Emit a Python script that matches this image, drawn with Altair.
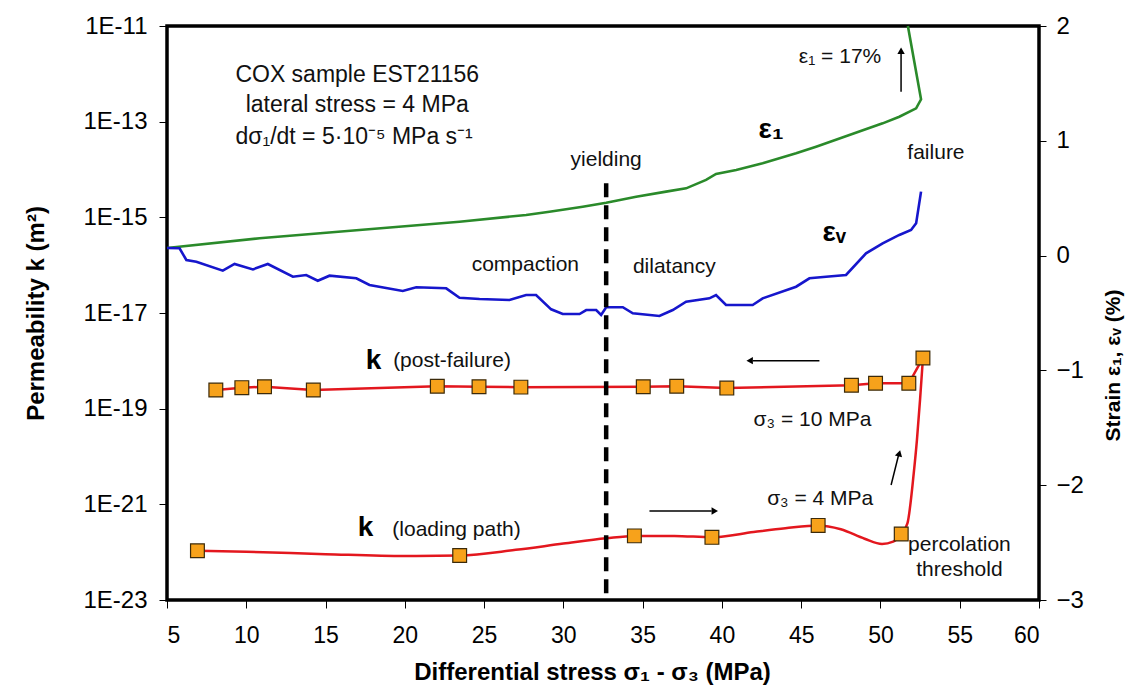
import altair as alt
import pandas as pd

FONT = "Liberation Sans"

# ---------------- permeability (left axis, m^2) ----------------
load_curve_x = [6.92, 10.0, 15.0, 20.0, 23.46, 27.0, 30.0, 32.7, 34.48, 37.0, 39.37, 42.0, 44.0,
                46.07, 47.5, 49.0, 50.1, 50.8, 51.31, 51.7, 52.1, 52.3, 52.5, 52.68]
load_curve_k = [1.07e-22, 1.02e-22, 9.1e-23, 8.3e-23, 8.5e-23, 1.12e-22, 1.51e-22, 1.95e-22, 2.19e-22,
                2.19e-22, 2.04e-22, 2.63e-22, 3.16e-22, 3.63e-22, 3.02e-22, 1.91e-22, 1.48e-22, 1.66e-22,
                2.40e-22, 3.98e-22, 4.47e-21, 2.19e-20, 1.58e-19, 1.15e-18]
load_marker_x = [6.92, 23.46, 34.48, 39.37, 46.07, 51.31]
load_marker_k = [1.07e-22, 8.5e-23, 2.19e-22, 2.04e-22, 3.63e-22, 2.40e-22]
post_x = [8.08, 9.72, 11.15, 14.23, 22.05, 24.68, 27.32, 35.04, 37.15, 40.31, 48.17, 49.69, 51.79, 52.68]
post_k = [2.45e-19, 2.75e-19, 2.88e-19, 2.45e-19, 2.95e-19, 2.88e-19, 2.82e-19, 2.88e-19, 2.95e-19,
          2.69e-19, 3.09e-19, 3.39e-19, 3.39e-19, 1.15e-18]

# ---------------- strain (right axis, %) ----------------
eps1_x = [5.0, 10.84, 17.14, 23.45, 27.65, 29.12, 31.22, 32.70, 34.59, 36.48, 37.74, 39.0, 39.63, 40.9,
          42.57, 44.68, 45.94, 48.04, 50.14, 51.19, 52.25, 52.56, 51.73]
eps1_s = [0.066, 0.151, 0.223, 0.295, 0.354, 0.382, 0.426, 0.461, 0.513, 0.557, 0.586, 0.659, 0.711, 0.746,
          0.804, 0.891, 0.949, 1.051, 1.152, 1.21, 1.283, 1.361, 2.0]
epsv_x = [5.0, 5.79, 6.22, 6.85, 8.52, 9.26, 10.42, 11.36, 12.94, 13.78, 14.51, 15.25, 16.94, 17.77, 19.87,
          20.72, 22.61, 23.45, 24.71, 26.6, 27.65, 28.28, 29.23, 29.96, 31.02, 31.44, 32.07, 32.38, 32.70,
          33.75, 34.38, 36.06, 36.9, 37.74, 39.21, 39.63, 40.26, 41.94, 42.57, 44.68, 45.52, 46.57, 47.83,
          49.09, 50.14, 51.19, 51.93, 52.25, 52.56]
epsv_s = [0.066, 0.064, -0.038, -0.053, -0.131, -0.073, -0.12, -0.073, -0.184, -0.169, -0.219, -0.175,
          -0.198, -0.256, -0.308, -0.276, -0.285, -0.367, -0.378, -0.387, -0.343, -0.343, -0.468, -0.509,
          -0.509, -0.474, -0.474, -0.517, -0.45, -0.45, -0.503, -0.526, -0.474, -0.402, -0.372, -0.343,
          -0.43, -0.43, -0.372, -0.271, -0.198, -0.184, -0.169, 0.02, 0.107, 0.18, 0.223, 0.281, 0.557]

yield_x = [32.7]
yield_top = [0.63]
yield_bottom = [-3.0]

# ---------------- annotations ----------------
note_text = ["yielding", "failure", "compaction", "dilatancy", "(post-failure)", "σ₃ = 10 MPa",
             "σ₃ = 4 MPa", "(loading path)", "percolation", "threshold"]
note_x = [32.70, 53.5, 27.6, 37.0, 22.98, 45.71, 46.2, 23.26, 54.98, 54.98]
note_s = [0.833, 0.891, -0.082, -0.097, -0.922, -1.432, -2.123, -2.39, -2.52, -2.739]

info_text = ["COX sample EST21156", "lateral stress = 4 MPa", "dσ₁/dt = 5·10⁻⁵ MPa s⁻¹"]
info_x = [17.0, 17.0, 16.8]
info_s = [1.573, 1.312, 1.03]

small_text = ["ε₁ = 17%"]
small_x = [47.45]
small_s = [1.733]

sym_text = ["ε₁", "εᵥ", "k", "k"]
sym_x = [43.1, 47.09, 18.03, 17.52]
sym_s = [1.094, 0.194, -0.918, -2.376]

arrow_x1 = [51.30, 46.15, 35.43, 50.67]
arrow_x2 = [51.30, 41.95, 39.35, 51.13]
arrow_s1 = [1.428, -0.915, -2.225, -1.998]
arrow_s2 = [1.76, -0.915, -2.225, -1.745]
head_x = [51.30, 41.75, 39.55, 51.19]
head_s = [1.785, -0.915, -2.225, -1.722]
head_shape = ["triangle-up", "triangle-left", "triangle-right", "triangle-up"]
head_angle = [0, 0, 0, 15]

x_ticks = [5, 10, 15, 20, 25, 30, 35, 40, 45, 50, 55, 60]
k_ticks = [1e-11, 1e-13, 1e-15, 1e-17, 1e-19, 1e-21, 1e-23]
s_ticks = [2, 1, 0, -1, -2, -3]

# ---------------- data frames ----------------
df_load = pd.DataFrame({"x": load_curve_x, "k": load_curve_k})
df_load_m = pd.DataFrame({"x": load_marker_x, "k": load_marker_k})
df_post = pd.DataFrame({"x": post_x, "k": post_k})
df_e1 = pd.DataFrame({"x": eps1_x, "s": eps1_s, "i": list(range(len(eps1_x)))})
df_ev = pd.DataFrame({"x": epsv_x, "s": epsv_s, "i": list(range(len(epsv_x)))})
df_yield = pd.DataFrame({"x": yield_x, "s": yield_top, "s2": yield_bottom})
df_note = pd.DataFrame({"x": note_x, "s": note_s, "t": note_text})
df_info = pd.DataFrame({"x": info_x, "s": info_s, "t": info_text})
df_small = pd.DataFrame({"x": small_x, "s": small_s, "t": small_text})
df_sym = pd.DataFrame({"x": sym_x, "s": sym_s, "t": sym_text})
df_arrow = pd.DataFrame({"x": arrow_x1, "x2": arrow_x2, "s": arrow_s1, "s2": arrow_s2})
df_head = pd.DataFrame({"x": head_x, "s": head_s, "shape": head_shape, "angle": head_angle})

# ---------------- scales / axes ----------------
x_enc = alt.X(
    "x:Q",
    scale=alt.Scale(domain=[5, 60], nice=False, zero=False),
    axis=alt.Axis(
        values=x_ticks, title="Differential stress  σ₁ - σ₃  (MPa)", grid=False, domain=False,
        tickColor="black", tickSize=8, tickWidth=1, labelFontSize=23, labelColor="black",
        labelFont=FONT, labelPadding=16, titleFont=FONT, titleFontSize=24, titleFontWeight="bold",
        titleColor="black", titleX=425, titleY=72, titleBaseline="middle", titleAlign="center",
    ),
)

k_scale = alt.Scale(type="log", domain=[1e-23, 1e-11], nice=False)
k_axis = alt.Axis(
    orient="left", values=k_ticks, labelExpr="'1E' + round(log(datum.value)/LN10)", grid=False,
    domain=False, tickColor="black", tickSize=8, tickWidth=1, labelFontSize=24, labelColor="black",
    labelFont=FONT, labelPadding=12, title="Permeability  k  (m²)", titleFont=FONT, titleFontSize=24,
    titleFontWeight="bold", titleColor="black", titleAngle=270, titleX=-131, titleY=287,
    titleAlign="center", titleBaseline="middle",
)
k_enc = alt.Y("k:Q", scale=k_scale, axis=k_axis)

s_scale = alt.Scale(domain=[-3, 2], nice=False, zero=False)
s_axis = alt.Axis(
    orient="right", values=s_ticks, grid=False, domain=False, tickColor="black", tickSize=7, tickWidth=1,
    labelFontSize=24, labelColor="black", labelFont=FONT, labelPadding=10,
    title="Strain  ε₁, εᵥ  (%)", titleFont=FONT, titleFontSize=21, titleFontWeight="bold",
    titleColor="black", titleAngle=270, titleX=74, titleY=339, titleAlign="center", titleBaseline="middle",
)
s_enc = alt.Y("s:Q", scale=s_scale, axis=s_axis)

RED = "#E3171E"

# ---------------- left group: permeability ----------------
load_line = alt.Chart(df_load).mark_line(color=RED, strokeWidth=2.5, interpolate="monotone").encode(
    x=x_enc, y=k_enc)
post_line = alt.Chart(df_post).mark_line(color=RED, strokeWidth=2.5).encode(x=x_enc, y=k_enc)
load_pts = alt.Chart(df_load_m).mark_point(
    shape="square", filled=True, fill="#F7A21B", stroke="#3b2a0a", strokeWidth=1.2, size=190, opacity=1
).encode(x=x_enc, y=k_enc)
post_pts = alt.Chart(df_post).mark_point(
    shape="square", filled=True, fill="#F7A21B", stroke="#3b2a0a", strokeWidth=1.2, size=190, opacity=1
).encode(x=x_enc, y=k_enc)
left = alt.layer(load_line, post_line, load_pts, post_pts)

# ---------------- right group: strain + annotations ----------------
e1_line = alt.Chart(df_e1).mark_line(color="#2A8A2A", strokeWidth=2.6).encode(
    x=x_enc, y=s_enc, order="i:Q")
ev_line = alt.Chart(df_ev).mark_line(color="#1616CC", strokeWidth=2.6).encode(
    x=x_enc, y=s_enc, order="i:Q")
yield_rule = alt.Chart(df_yield).mark_rule(color="black", strokeWidth=4.5, strokeDash=[14, 8]).encode(
    x=x_enc, y=s_enc, y2="s2:Q")
notes = alt.Chart(df_note).mark_text(font=FONT, fontSize=21, color="#111", align="center",
                                     baseline="middle").encode(x=x_enc, y=s_enc, text="t:N")
info = alt.Chart(df_info).mark_text(font=FONT, fontSize=23, color="#111", align="center",
                                    baseline="middle").encode(x=x_enc, y=s_enc, text="t:N")
small = alt.Chart(df_small).mark_text(font=FONT, fontSize=21, color="#111", align="center",
                                      baseline="middle").encode(x=x_enc, y=s_enc, text="t:N")
sym = alt.Chart(df_sym).mark_text(font=FONT, fontSize=28, fontWeight="bold", color="black",
                                  align="center", baseline="middle").encode(x=x_enc, y=s_enc, text="t:N")
arrows = alt.Chart(df_arrow).mark_rule(color="black", strokeWidth=1.5).encode(
    x=x_enc, x2="x2:Q", y=s_enc, y2="s2:Q")
heads = alt.Chart(df_head).mark_point(filled=True, color="black", size=55, opacity=1).encode(
    x=x_enc, y=s_enc, shape=alt.Shape("shape:N", scale=None), angle=alt.Angle("angle:Q", scale=None))
right = alt.layer(e1_line, ev_line, yield_rule, notes, info, small, sym, arrows, heads)

chart = alt.layer(left, right).resolve_scale(y="independent").properties(
    width=872, height=574,
    autosize=alt.AutoSizeParams(type="none"),
    padding={"left": 159, "top": 18, "right": 87, "bottom": 89},
).configure_view(stroke="black", strokeWidth=3.5)

chart.save("out.html", embed_options={"renderer": "svg", "actions": False})
